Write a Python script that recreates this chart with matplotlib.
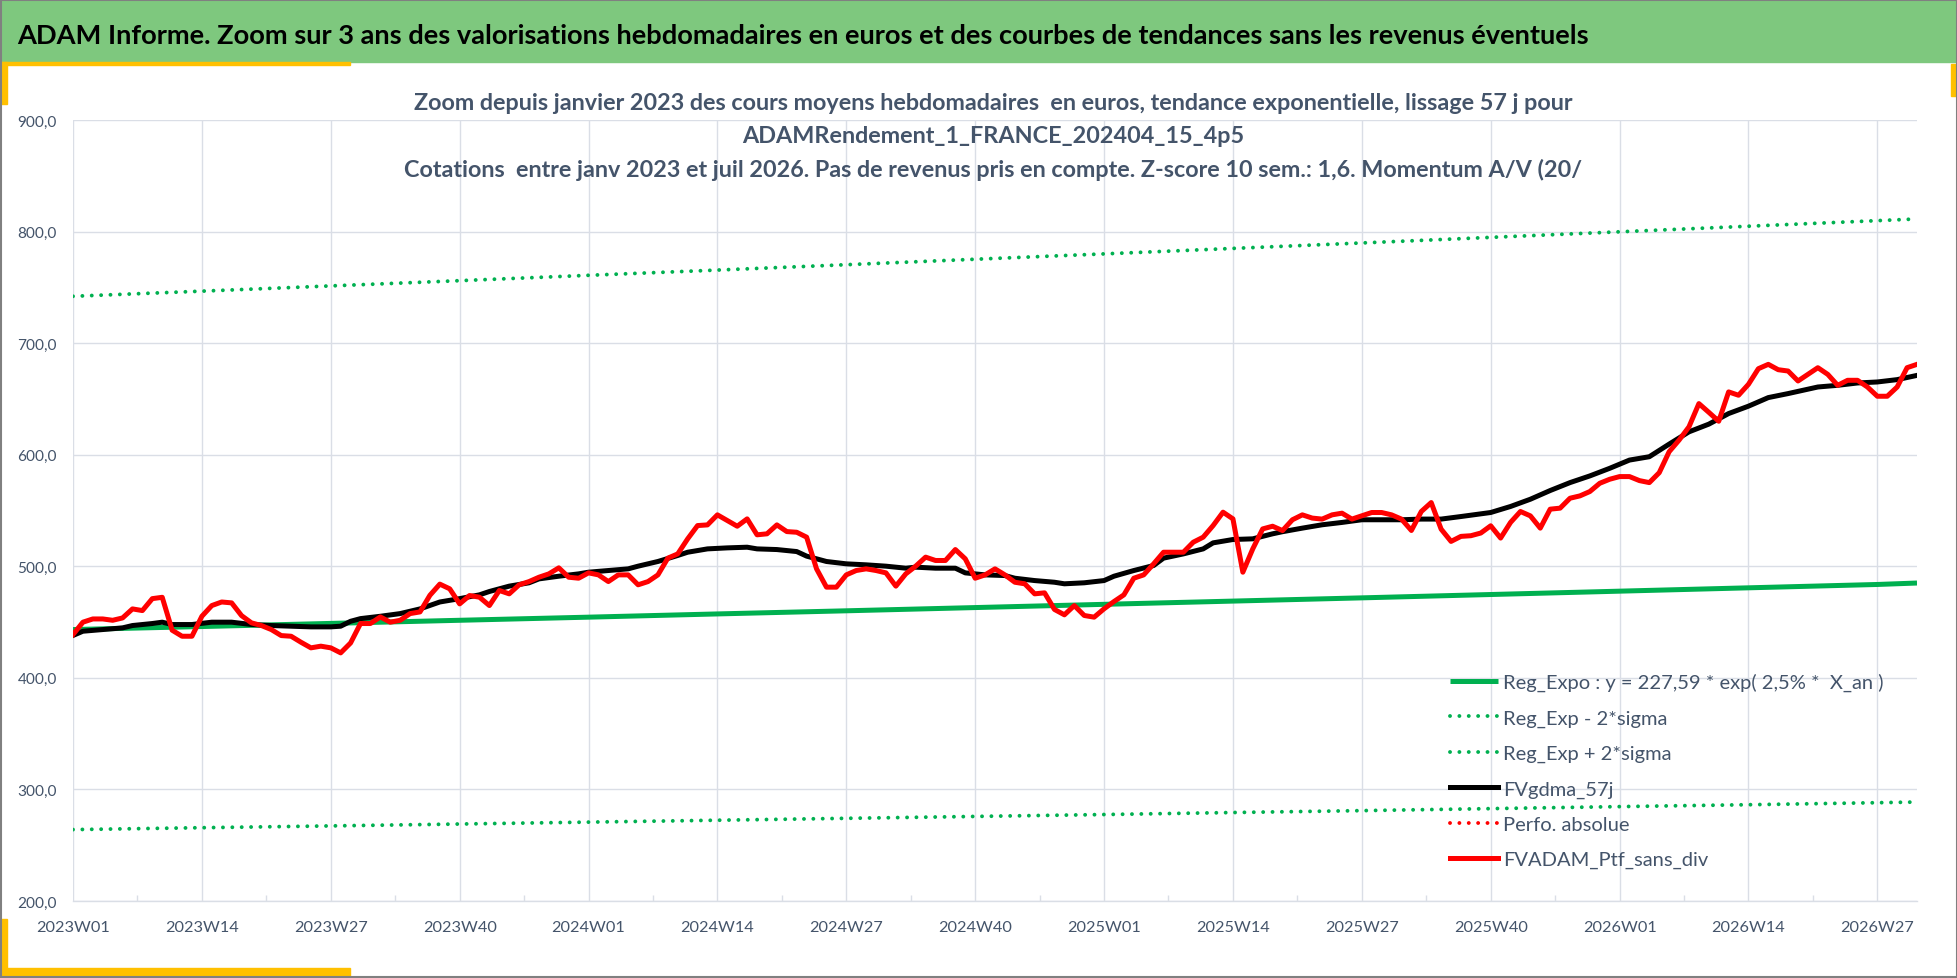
import numpy as np
import matplotlib
matplotlib.use('Agg')
import matplotlib.pyplot as plt
from matplotlib.patches import Rectangle
from matplotlib.ticker import FuncFormatter, FixedLocator

plt.rcParams['font.family'] = ['Lato', 'Liberation Sans', 'DejaVu Sans']

# weekly values, week 0 = 2023W01, last = 2026W31
tick_labels = ['2023W01', '2023W14', '2023W27', '2023W40', '2024W01', '2024W14', '2024W27',
               '2024W40', '2025W01', '2025W14', '2025W27', '2025W40', '2026W01', '2026W14', '2026W27']

red_values = [
    438.8, 449.9, 452.8, 452.8, 451.6, 453.7, 461.8, 460.3, 471.0, 472.2,
    442.7, 437.3, 437.3, 455.2, 464.8, 468.0, 467.2, 455.8, 449.3, 446.9,
    443.3, 437.9, 437.3, 431.9, 426.9, 428.4, 426.9, 422.4, 431.3, 448.7,
    448.7, 454.6, 449.9, 451.6, 457.6, 459.1, 474.0, 484.0, 479.8, 466.3,
    473.8, 472.3, 464.8, 478.3, 475.3, 483.4, 486.3, 490.2, 493.2, 498.6,
    490.2, 489.3, 494.1, 492.3, 486.3, 492.3, 492.3, 483.4, 486.3, 492.3,
    507.3, 511.1, 524.6, 536.5, 537.1, 546.1, 541.0, 535.9, 542.5, 528.2,
    529.1, 537.1, 531.1, 530.5, 526.1, 497.7, 481.3, 481.3, 492.3, 496.2,
    497.7, 496.2, 494.1, 482.2, 493.2, 500.1, 508.2, 505.2, 505.2, 515.0,
    506.7, 489.3, 492.3, 497.7, 492.3, 485.7, 484.3, 475.3, 476.2, 461.3,
    456.5, 464.8, 455.9, 454.4, 461.9, 468.4, 474.4, 489.3, 492.3, 502.2,
    512.6, 512.6, 512.6, 521.6, 526.1, 536.5, 548.5, 542.5, 494.7, 515.6,
    533.5, 535.9, 532.0, 541.7, 546.1, 543.2, 542.3, 546.1, 547.6, 542.3,
    545.2, 548.2, 548.2, 546.1, 542.3, 532.1, 549.1, 557.1, 533.3, 522.3,
    526.8, 527.4, 529.8, 536.3, 525.3, 539.3, 549.1, 545.2, 534.2, 551.2,
    552.1, 561.0, 563.1, 567.0, 574.4, 578.0, 580.4, 580.4, 576.8, 575.0,
    583.9, 602.7, 613.1, 625.0, 645.8, 638.0, 630.0, 656.3, 653.3, 663.1,
    677.1, 681.0, 676.2, 675.0, 666.1, 672.0, 678.0, 672.0, 662.2, 666.7,
    666.7, 660.7, 652.4, 652.4, 660.7, 678.0, 681.0]

black_weeks = [0, 1, 3, 5, 6, 8, 9, 10, 12, 14, 16, 18, 20, 22, 24, 26, 27, 28, 29, 31,
               33, 35, 37, 39, 41, 42, 44, 46, 47, 49, 51, 52, 54, 56, 57, 59, 61, 62, 64, 66,
               68, 69, 71, 73, 74, 76, 78, 80, 82, 84, 85, 87, 89, 90, 92, 94, 95, 97, 99, 100,
               102, 104, 105, 107, 109, 110, 112, 114, 115, 117, 119, 121, 122, 124, 126, 128, 130, 132, 134, 136,
               138, 140, 143, 145, 147, 149, 151, 153, 155, 157, 159, 161, 163, 165, 167, 169, 171, 173, 176, 178,
               180, 182, 184, 186]
black_values = [438.0, 441.8, 443.3, 444.8, 446.9, 448.7, 449.9, 447.8, 447.8, 449.9,
                449.9, 447.8, 446.9, 446.3, 445.7, 445.7, 446.3, 450.7, 453.1, 455.2,
                457.6, 461.8, 468.0, 471.0, 474.4, 477.4, 482.2, 485.2, 488.7, 491.1,
                493.2, 494.7, 496.2, 497.7, 500.1, 504.3, 509.7, 512.6, 515.6, 516.5,
                517.1, 515.6, 515.0, 513.2, 509.1, 504.3, 502.2, 501.3, 500.1, 498.3,
                499.2, 498.3, 498.3, 494.1, 492.3, 491.7, 489.3, 487.2, 485.7, 484.3,
                485.2, 487.2, 491.1, 496.2, 500.7, 507.3, 511.1, 515.6, 521.0, 524.0,
                524.6, 529.1, 531.0, 534.2, 537.2, 539.3, 541.7, 541.7, 541.7, 542.3,
                542.3, 544.6, 548.2, 553.6, 560.1, 567.9, 575.0, 581.0, 587.8, 595.2,
                598.2, 609.5, 620.5, 627.4, 636.9, 643.5, 651.2, 654.8, 660.7, 662.2,
                664.3, 665.2, 667.3, 671.1]

# trend lines read at the 13-week ticks (+ last week)
trend_weeks = [0, 13, 26, 39, 52, 65, 78, 91, 104, 117, 130, 143, 156, 169, 182, 186]
reg_expo = [443.3, 446.0, 448.8, 451.6, 454.4, 457.3, 460.1, 463.0, 465.9, 468.8, 471.7, 474.7, 477.7, 480.7, 483.7, 485.0]
reg_minus = [264.0, 265.7, 267.3, 269.0, 270.7, 272.4, 274.1, 275.8, 277.5, 279.3, 281.0, 282.8, 284.6, 286.3, 288.1, 288.7]
reg_plus = [742.0, 746.6, 751.3, 756.0, 760.8, 765.5, 770.3, 775.2, 780.0, 784.9, 789.8, 794.8, 799.8, 804.8, 809.8, 811.3]

title = "ADAM Informe. Zoom sur 3 ans des valorisations hebdomadaires en euros et des courbes de tendances sans les revenus éventuels"
subtitle = ["Zoom depuis janvier 2023 des cours moyens hebdomadaires  en euros, tendance exponentielle, lissage 57 j pour",
            "ADAMRendement_1_FRANCE_202404_15_4p5",
            "Cotations  entre janv 2023 et juil 2026. Pas de revenus pris en compte. Z-score 10 sem.: 1,6. Momentum A/V (20/"]
legend_labels = ['Reg_Expo : y = 227,59 * exp( 2,5% *  X_an )', 'Reg_Exp - 2*sigma', 'Reg_Exp + 2*sigma',
                 'FVgdma_57j', 'Perfo. absolue', 'FVADAM_Ptf_sans_div']

W, H = 1958, 979
GREEN = '#00B050'
GRID = '#DADEE6'
TXT = '#44546A'
dots = (0, (0.01, 2.4))

fig = plt.figure(figsize=(W / 100, H / 100), dpi=100)
renderer = fig.canvas.get_renderer()

def px(x, y):
    return x / W, 1 - y / H

def size_for(s, width_px, **kw):
    # font size that makes the string s about width_px wide
    t = fig.text(0, 0, s, fontsize=10, **kw)
    w = t.get_window_extent(renderer).width
    t.remove()
    return 10 * width_px / w

# header band and decorations
fig.add_artist(Rectangle(px(0, 63), 1, 63 / H, transform=fig.transFigure, color='#7EC87E', zorder=0))
fig.add_artist(Rectangle(px(0, 66), 350 / W, 3 / H, transform=fig.transFigure, color='#FFC000', zorder=1))
fig.add_artist(Rectangle(px(0, 105), 7 / W, 42 / H, transform=fig.transFigure, color='#FFC000', zorder=1))
fig.add_artist(Rectangle(px(1951, 97), 7 / W, 32 / H, transform=fig.transFigure, color='#FFC000', zorder=1))
fig.add_artist(Rectangle(px(0, 977), 7 / W, 57 / H, transform=fig.transFigure, color='#FFC000', zorder=1))
fig.add_artist(Rectangle(px(0, 977), 350 / W, 8 / H, transform=fig.transFigure, color='#FFC000', zorder=1))
fig.add_artist(Rectangle((0.0005, 0.001), 0.999, 0.998, transform=fig.transFigure, fill=False,
                         edgecolor='#808080', linewidth=1.5, zorder=5))

fs_title = size_for(title, 1579, fontweight='bold')
fig.text(*px(17, 36), title, ha='left', va='center', fontsize=fs_title, fontweight='bold', color='black')
fs_sub = size_for(subtitle[2], 1182, fontweight='bold')
for yy, line in zip([103, 137, 170], subtitle):
    fig.text(*px(993, yy), line, ha='center', va='center', fontsize=fs_sub, fontweight='bold', color=TXT)

ax = fig.add_axes([73 / W, 1 - 902 / H, (1917 - 73) / W, (902 - 121) / H])
x = np.arange(len(red_values))

ax.plot(trend_weeks, reg_expo, color=GREEN, lw=3.6, solid_capstyle='butt', label=legend_labels[0], zorder=3)
ax.plot(trend_weeks, reg_minus, color=GREEN, lw=2.8, linestyle=dots, dash_capstyle='round',
        label=legend_labels[1], zorder=3)
ax.plot(trend_weeks, reg_plus, color=GREEN, lw=2.8, linestyle=dots, dash_capstyle='round',
        label=legend_labels[2], zorder=3)
ax.plot(black_weeks, black_values, color='black', lw=3.6, label=legend_labels[3], zorder=4)
ax.plot([], [], color='#FF0000', lw=2.8, linestyle=dots, dash_capstyle='round', label=legend_labels[4])
ax.plot(x, red_values, color='#FF0000', lw=3.6, label=legend_labels[5], zorder=5)

ax.set_xlim(0, len(red_values) - 1)
ax.set_ylim(200, 900)
ax.set_yticks(np.arange(200, 901, 100))
ax.yaxis.set_major_formatter(FuncFormatter(lambda v, p: f"{v:.1f}".replace('.', ',')))
ax.set_xticks(np.arange(0, 183, 13))
ax.set_xticklabels(tick_labels)
ax.xaxis.set_minor_locator(FixedLocator(np.arange(6.5, 186, 13)))

ax.grid(True, which='major', color=GRID, linewidth=1.0)
ax.set_axisbelow(True)
for s in ['top', 'right', 'left']:
    ax.spines[s].set_visible(False)
ax.spines['bottom'].set_color(GRID)
ax.spines['bottom'].set_linewidth(1.0)
fs_x = size_for('2024W14', 74)
fs_y = size_for('600,0', 39)
ax.tick_params(axis='both', which='major', length=0, labelcolor=TXT)
ax.tick_params(axis='x', labelsize=fs_x, pad=14)
ax.tick_params(axis='y', labelsize=fs_y, pad=11.5)
ax.tick_params(axis='x', which='minor', direction='in', length=4, color=GRID, width=1.0)

fs_leg = size_for(legend_labels[0], 380)
fs_leg_px = fs_leg * 100 / 72
leg = ax.legend(loc='upper left', bbox_to_anchor=px(1450, 674), bbox_transform=fig.transFigure,
                frameon=False, fontsize=fs_leg, handlelength=48 / fs_leg_px, handletextpad=5 / fs_leg_px,
                labelspacing=(37 - 0.94 * fs_leg_px) / fs_leg_px, borderpad=0, borderaxespad=0)
for t in leg.get_texts():
    t.set_color(TXT)

fig.savefig('out.png', dpi=100)
